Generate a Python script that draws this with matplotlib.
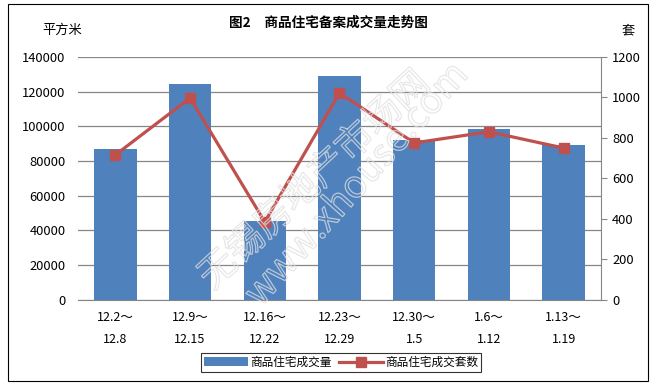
import matplotlib.pyplot as plt
import matplotlib.patheffects as pe
import numpy as np
from matplotlib.patches import Rectangle

plt.rcParams['font.family'] = ['Noto Sans CJK SC', 'DejaVu Sans']

weeks = ['12.2～\n12.8', '12.9～\n12.15', '12.16～\n12.22', '12.23～\n12.29',
         '12.30～\n1.5', '1.6～\n1.12', '1.13～\n1.19']
area = [87000, 124500, 45500, 129000, 92200, 98500, 89300]   # 平方米
units = [716, 997, 385, 1022, 775, 830, 750]                 # 套

fig = plt.figure(figsize=(6.56, 3.84), dpi=100)
ax = fig.add_axes([0.119, 0.219, 0.797, 0.633])
x = np.arange(len(weeks))

bars = ax.bar(x, area, width=0.57, color='#4F81BD', zorder=2, label='商品住宅成交量')
ax.set_ylim(0, 140000)
ax.set_xlim(-0.5, len(weeks) - 0.5)
ax.set_yticks(np.arange(0, 140001, 20000))
ax.yaxis.grid(True, color='#868686', linewidth=0.9, zorder=0)
ax.set_axisbelow(True)
ax.set_xticks(x)
ax.set_xticklabels(weeks, fontsize=9, linespacing=1.9)
ax.tick_params(axis='x', length=0, pad=8)
ax.tick_params(axis='y', length=0, labelsize=9.3, pad=9)
for s in ['top', 'left', 'right']:
    ax.spines[s].set_visible(False)
ax.spines['bottom'].set_color('#868686')

ax2 = ax.twinx()
line, = ax2.plot(x, units, color='#C0504D', linewidth=2.3, marker='s',
                 markersize=6.5, zorder=3, label='商品住宅成交套数')
ax2.set_ylim(0, 1200)
ax2.set_yticks(np.arange(0, 1201, 200))
ax2.tick_params(axis='y', labelsize=9.3, length=4, color='#868686', pad=4)
for s in ['top', 'left', 'bottom']:
    ax2.spines[s].set_visible(False)
ax2.spines['right'].set_color('#868686')

fig.text(0.5, 0.94, '图2　商品住宅备案成交量走势图', ha='center', va='center',
         fontsize=9.8, fontweight='bold')
fig.text(0.095, 0.92, '平方米', ha='center', va='center', fontsize=9.5)
fig.text(0.957, 0.92, '套', ha='center', va='center', fontsize=9.5)

leg = fig.legend(handles=[bars, line], loc='center', bbox_to_anchor=(0.52, 0.057),
                 ncol=2, fontsize=8.4, frameon=True, fancybox=False,
                 edgecolor='black', handlelength=3.8, handletextpad=0.2,
                 columnspacing=0.6, borderpad=0.25)
leg.get_frame().set_linewidth(0.8)

# faint outlined watermark
wm = dict(color='none', ha='center', va='center', zorder=5,
          path_effects=[pe.withStroke(linewidth=0.9, foreground=(0.88, 0.88, 0.88, 0.75))])
fig.text(0.48, 0.53, '无锡房地产市场网', fontsize=27, rotation=43, **wm)
fig.text(0.545, 0.52, 'www.xhouse.com', fontsize=27, rotation=48, **wm)

fig.patches.append(Rectangle((0.012, 0.008), 0.976, 0.982, transform=fig.transFigure,
                             fill=False, edgecolor='black', linewidth=0.8))

fig.savefig('out.png', dpi=100)
